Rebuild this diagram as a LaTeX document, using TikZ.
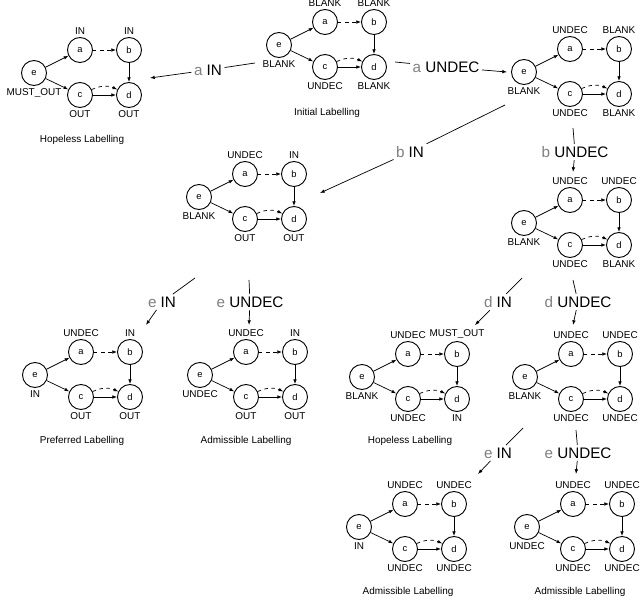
\documentclass[tikz,border=0pt]{standalone}
\usepackage{fontspec}
\setmainfont{Liberation Sans}
\usetikzlibrary{arrows.meta}

\tikzset{
    arg/.style={circle, draw, thick, minimum size=0.75cm, inner sep=0pt, font=\fontsize{8}{9}\selectfont},
    lab/.style={font=\fontsize{8.5}{9}\selectfont, inner sep=1pt},
    att/.style={-{Latex[length=4pt, width=3pt]}, semithick},
    trans/.style={font=\fontsize{13}{14}\selectfont, inner sep=2pt},
    caption/.style={font=\fontsize{8.5}{9}\selectfont},
}
\newcommand{\trlet}[1]{\textcolor{gray}{#1}}

% labelled graph: prefix, position of e, labels of a, b, e, c, d
\newcommand{\lgraph}[7]{%
    \begin{scope}[shift={(#2)}]
        \node[arg, label={[lab, label distance=1pt]below:#5}] (#1e) at (0, 0) {e};
        \node[arg, label={[lab, label distance=1pt]above:#3}] (#1a) at (46, -23) {a};
        \node[arg, label={[lab, label distance=1pt]above:#4}] (#1b) at (95, -23) {b};
        \node[arg, label={[lab, label distance=1pt]below:#6}] (#1c) at (46, 22) {c};
        \node[arg, label={[lab, label distance=1pt]below:#7}] (#1d) at (95, 22) {d};
        \draw[att] (#1e) -- (#1a);
        \draw[att] (#1e) -- (#1c);
        \draw[att, dashed] (#1a) -- (#1b);
        \draw[att] (#1b) -- (#1d);
        \draw[att] (#1c) -- (#1d);
        \draw[att, dashed] (#1c) to[bend left=25] (#1d);
    \end{scope}}

\begin{document}
\begin{tikzpicture}[x=0.03cm, y=-0.03cm]
    \useasboundingbox (0, 0) rectangle (640, 600);

    % labellings
    \lgraph{g}{279, 45}{BLANK}{BLANK}{BLANK}{UNDEC}{BLANK}
    \lgraph{h}{34, 73}{IN}{IN}{MUST\_OUT}{OUT}{OUT}
    \lgraph{u}{524, 72}{UNDEC}{BLANK}{BLANK}{UNDEC}{BLANK}
    \lgraph{bi}{199, 197}{UNDEC}{IN}{BLANK}{OUT}{OUT}
    \lgraph{bu}{524, 223}{UNDEC}{UNDEC}{BLANK}{UNDEC}{BLANK}
    \lgraph{pr}{35, 375}{UNDEC}{IN}{IN}{OUT}{OUT}
    \lgraph{ad}{200, 375}{UNDEC}{IN}{UNDEC}{OUT}{OUT}
    \lgraph{hp}{362, 377}{UNDEC}{MUST\_OUT}{BLANK}{UNDEC}{IN}
    \lgraph{du}{525, 377}{UNDEC}{UNDEC}{BLANK}{UNDEC}{UNDEC}
    \lgraph{ei}{359, 527}{UNDEC}{UNDEC}{IN}{UNDEC}{UNDEC}
    \lgraph{eu}{527, 527}{UNDEC}{UNDEC}{UNDEC}{UNDEC}{UNDEC}

    % captions
    \node[caption] (cg) at (327, 113) {Initial Labelling};
    \node[caption] (ch) at (82, 140) {Hopeless Labelling};
    \node[caption] (cpr) at (82, 441) {Preferred Labelling};
    \node[caption] (cad) at (246, 441) {Admissible Labelling};
    \node[caption] (chp) at (410, 441) {Hopeless Labelling};
    \node[caption] (cei) at (408, 592) {Admissible Labelling};
    \node[caption] (ceu) at (580, 592) {Admissible Labelling};

    % transitions
    \node[trans] (t1) at (208, 70) {\trlet{a} IN};
    \node[trans] (t2) at (446, 67) {\trlet{a} UNDEC};
    \node[trans] (t3) at (410, 152) {\trlet{b} IN};
    \node[trans] (t4) at (575, 152) {\trlet{b} UNDEC};
    \node[trans] (t5) at (162, 302) {\trlet{e} IN};
    \node[trans] (t6) at (250, 302) {\trlet{e} UNDEC};
    \node[trans] (t7) at (498, 302) {\trlet{d} IN};
    \node[trans] (t8) at (578, 302) {\trlet{d} UNDEC};
    \node[trans] (t9) at (498, 453) {\trlet{e} IN};
    \node[trans] (t10) at (578, 453) {\trlet{e} UNDEC};

    \coordinate (s1) at (255, 63);   \coordinate (e1) at (150, 78);
    \coordinate (s2) at (395, 62);   \coordinate (e2) at (507, 72);
    \coordinate (s3) at (505, 105);  \coordinate (e3) at (320, 193);
    \coordinate (s4) at (573, 128);  \coordinate (e4) at (573, 172);
    \coordinate (s5) at (195, 278);  \coordinate (e5) at (146, 325);
    \coordinate (s6) at (249, 280);  \coordinate (e6) at (249, 325);
    \coordinate (s7) at (522, 278);  \coordinate (e7) at (475, 325);
    \coordinate (s8) at (573, 280);  \coordinate (e8) at (573, 325);
    \coordinate (s9) at (523, 428);  \coordinate (e9) at (478, 474);
    \coordinate (s10) at (576, 430); \coordinate (e10) at (576, 474);

    \foreach \i in {1, ..., 10} {
        \draw[semithick] (s\i) -- (t\i);
        \draw[att] (t\i) -- (e\i);
    }
\end{tikzpicture}
\end{document}
